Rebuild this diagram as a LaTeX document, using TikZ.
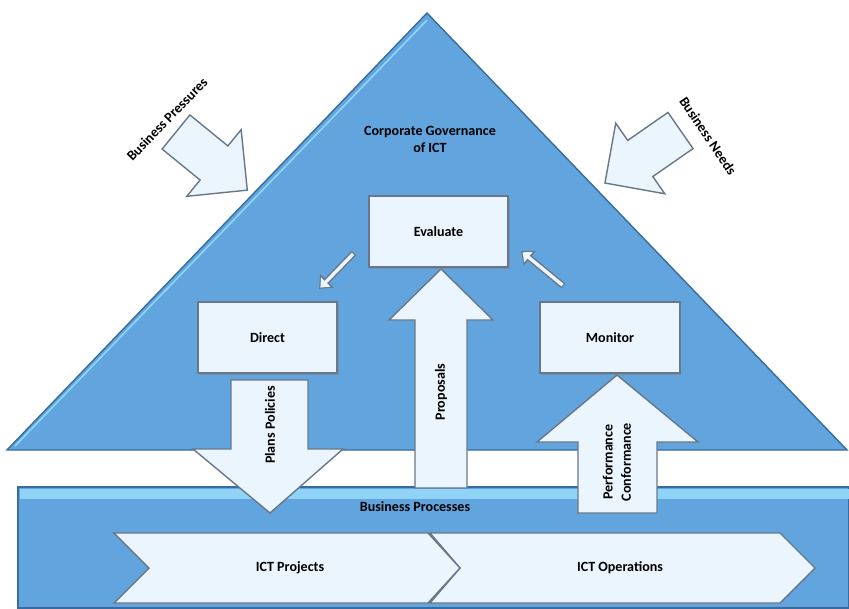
\documentclass[tikz,border=0pt]{standalone}
\usepackage{fontspec}
\setmainfont{Carlito}
\usetikzlibrary{arrows.meta,calc,shadows}
\definecolor{govblue}{RGB}{98,164,221}
\definecolor{govedge}{RGB}{56,108,158}
\definecolor{govlight}{RGB}{143,211,247}
\definecolor{boxfill}{RGB}{234,245,253}
\definecolor{boxedge}{RGB}{104,120,138}
\tikzset{cobit/.style={x=0.025cm,y=-0.025cm,font=\bfseries\fontsize{10}{11}\selectfont},
  stagebox/.style={draw=boxedge,line width=1.4pt,fill=boxfill,minimum width=3.48cm,minimum height=1.78cm,
    drop shadow={shadow xshift=1pt,shadow yshift=-1.2pt,fill=black!50}},
  bigarrow/.style={draw=boxedge,line width=1pt,fill=boxfill,line join=miter},
  linkout/.style={draw=boxedge,line width=4.5pt,-{Triangle[length=8pt,width=13pt]}},
  linkin/.style={draw=boxfill,line width=2.4pt,shorten >=1.3pt,shorten <=0.8pt,-{Triangle[length=5.5pt,width=9pt]}}}

\begin{document}
\begin{tikzpicture}[cobit]
    \useasboundingbox (0,0) rectangle (849,608);
    % governance triangle and process band
    \filldraw[fill=govblue,draw=govedge,line width=1pt] (7,450) -- (427,13) -- (847,450) -- cycle;
    \draw[govlight,line width=1.2pt] (15,446) -- (427,20);
    \filldraw[fill=govblue,draw=govedge,line width=1pt] (18,487) rectangle (849,608);
    \fill[govlight] (20,489) rectangle (849,499);
    \draw[bigarrow] (430,533) -- (780,533) -- (815,568) -- (780,603) -- (430,603) -- (460,568) -- cycle;
    \draw[bigarrow] (114,533) -- (428,533) -- (460,568) -- (428,603) -- (114,603) -- (149,568) -- cycle;
    % block arrows
    \draw[bigarrow] (231,380) -- (308,380) -- (308,449) -- (343,449) -- (270,513) -- (193,449) -- (231,449) -- cycle;
    \draw[bigarrow] (415,488) -- (415,320) -- (389,320) -- (441,269) -- (493,320) -- (467,320) -- (467,488) -- cycle;
    \draw[bigarrow] (578,513) -- (578,442) -- (537,442) -- (617,375) -- (698,442) -- (657,442) -- (657,513) -- cycle;
    \begin{scope}[shift={(176,132)},rotate=-39.2]
      \draw[bigarrow] (0,-22) -- (49,-22) -- (49,-43) -- (92,0) -- (49,43) -- (49,22) -- (0,22) -- cycle;
    \end{scope}
    \begin{scope}[shift={(680.5,130.5)},rotate=-145.2]
      \draw[bigarrow] (0,-22) -- (49,-22) -- (49,-43) -- (92,0) -- (49,43) -- (49,22) -- (0,22) -- cycle;
    \end{scope}
    \node[rotate=46] (pressures) at (167,119) {Business Pressures};
    \node[rotate=-56] (needs) at (708,136) {Business Needs};
    \node[align=center,font=\bfseries\fontsize{10}{12}\selectfont] (cgov) at (430,139) {Corporate Governance\\of ICT};
    % the three activities
    \node[stagebox] (evaluate) at (438.5,231.5) {Evaluate};
    \node[stagebox] (direct) at (267.5,337.5) {Direct};
    \node[stagebox] (monitor) at (610,337.5) {Monitor};
    \foreach \s in {linkout,linkin} {
      \draw[\s] ($(evaluate.south west)+(-14,-15)$) -- ($(direct.north east)+(-19,-12)$);
      \draw[\s] ($(monitor.north west)+(24,-15)$) -- ($(evaluate.south east)+(12,-17)$);
    }
    \node[rotate=90] (plans) at (270,425) {Plans Policies};
    \node[rotate=90] (proposals) at (441,392) {Proposals};
    \node[rotate=90,align=center,font=\bfseries\fontsize{10}{13}\selectfont] (perf) at (617,462) {Performance\\Conformance};
    \node (bp) at (415,507) {Business Processes};
    \node (projects) at (290,568) {ICT Projects};
    \node (operations) at (620,568) {ICT Operations};
\end{tikzpicture}
\end{document}
